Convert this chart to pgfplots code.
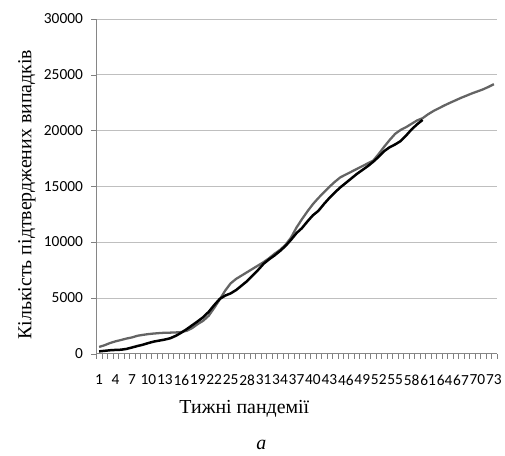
\documentclass[border=0pt]{standalone}
\usepackage{pgfplots}
\pgfplotsset{compat=1.18}
\usepackage{fontspec}
\setmainfont{Liberation Serif}
\newfontfamily\carlito{Carlito}
\definecolor{lgray}{RGB}{100,100,100}
\definecolor{gridc}{RGB}{134,134,134}
\begin{document}
\begin{tikzpicture}
\begin{axis}[
  at={(0bp,0bp)}, anchor=south west,
  scale only axis, width=403bp, height=337bp,
  xmin=0.5, xmax=73.5, ymin=0, ymax=30000,
  axis x line*=bottom, axis y line*=left,
  axis line style={gridc, line width=1bp, -},
  ytick={0,5000,...,30000},
  xtick={0.5,1.5,...,73.5},
  xticklabel={\pgfmathparse{int(mod(round(\tick+0.5)-1,3))}\ifnum\pgfmathresult=0 \pgfmathparse{int(round(\tick+0.5))}\pgfmathresult\fi},
  xticklabel style={xshift=2.76bp, yshift=-13bp},
  yticklabel style={xshift=-5bp},
  major tick length=5bp,
  tick align=outside,
  scaled y ticks=false,
  ymajorgrids=true,
  /pgf/number format/assume math mode=true,
  /pgf/number format/1000 sep={},
  ticklabel style={font=\carlito\fontsize{15.5bp}{18bp}\selectfont},
  clip=false,
]
\addplot[lgray, line width=2.3bp] coordinates {
(1,600)(2,750)(3,950)(4,1100)(5,1220)(6,1350)(7,1450)(8,1600)(9,1680)(10,1750)
(11,1800)(12,1840)(13,1870)(14,1880)(15,1900)(16,1930)(17,2050)(18,2300)(19,2650)(20,2950)
(21,3400)(22,4100)(23,4850)(24,5650)(25,6300)(26,6700)(27,7000)(28,7300)(29,7600)(30,7900)
(31,8200)(32,8550)(33,8950)(34,9300)(35,9750)(36,10400)(37,11300)(38,12050)(39,12750)(40,13400)
(41,13950)(42,14450)(43,14950)(44,15400)(45,15800)(46,16050)(47,16300)(48,16550)(49,16800)(50,17050)
(51,17300)(52,17900)(53,18550)(54,19150)(55,19700)(56,20050)(57,20300)(58,20600)(59,20900)(60,21100)
(61,21450)(62,21750)(63,22000)(64,22250)(65,22480)(66,22700)(67,22920)(68,23120)(69,23320)(70,23500)
(71,23680)(72,23900)(73,24150)
};
\addplot[black, line width=2.5bp] coordinates {
(1,200)(2,250)(3,300)(4,330)(5,350)(6,420)(7,550)(8,680)(9,800)(10,950)
(11,1080)(12,1170)(13,1260)(14,1380)(15,1600)(16,1880)(17,2200)(18,2550)(19,2900)(20,3270)
(21,3750)(22,4350)(23,4900)(24,5200)(25,5400)(26,5700)(27,6100)(28,6500)(29,7000)(30,7500)
(31,8050)(32,8450)(33,8800)(34,9200)(35,9650)(36,10200)(37,10800)(38,11250)(39,11850)(40,12400)
(41,12800)(42,13400)(43,13950)(44,14450)(45,14900)(46,15300)(47,15700)(48,16100)(49,16450)(50,16800)
(51,17200)(52,17650)(53,18150)(54,18500)(55,18750)(56,19050)(57,19550)(58,20100)(59,20550)(60,20950)
};
\end{axis}
\node[rotate=90, font=\fontsize{20bp}{24bp}\selectfont] at (-70bp,160bp) {Кількість підтверджених випадків};
\node[font=\fontsize{20bp}{24bp}\selectfont] at (149bp,-56bp) {Тижні пандемії};
\node[font=\fontsize{20bp}{24bp}\selectfont\itshape] at (166bp,-92bp) {a};
\path (-97bp,-103bp) rectangle (408bp,356bp);
\end{tikzpicture}
\end{document}
